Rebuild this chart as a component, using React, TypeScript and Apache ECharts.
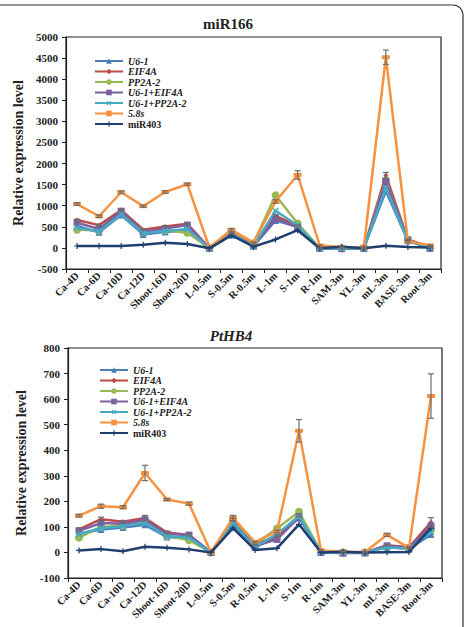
import React, { useEffect, useRef } from "react";
import * as echarts from "echarts";

const categories = ["Ca-4D", "Ca-6D", "Ca-10D", "Ca-12D", "Shoot-16D", "Shoot-20D", "L-0.5m", "S-0.5m", "R-0.5m", "L-1m", "S-1m", "R-1m", "SAM-3m", "YL-3m", "mL-3m", "BASE-3m", "Root-3m"];
const seriesNames = ["U6-1", "EIF4A", "PP2A-2", "U6-1+EIF4A", "U6-1+PP2A-2", "5.8s", "miR403"];

// miR166
const topU61 = [520, 370, 780, 320, 380, 420, -10, 300, 40, 650, 500, -10, -15, -10, 1350, 170, -10];
const topEIF4A = [660, 540, 900, 430, 510, 570, -5, 360, 80, 760, 520, -5, -10, -5, 1720, 200, 20];
const topPP2A2 = [430, 420, 840, 380, 420, 360, -5, 340, 110, 1250, 580, -5, -10, -5, 1600, 180, 10];
const topU61EIF4A = [600, 450, 870, 380, 460, 540, -10, 330, 60, 700, 490, -10, -20, -10, 1580, 190, -10];
const topU61PP2A2 = [480, 390, 800, 350, 400, 450, -10, 310, 50, 880, 530, -10, -15, -10, 1420, 175, 0];
const top58s = [1040, 750, 1320, 990, 1325, 1510, 10, 430, 130, 1100, 1730, 60, 20, 10, 4520, 160, 60];
const topMiR403 = [45, 45, 45, 75, 120, 95, -10, 300, 30, 200, 420, -10, 30, -10, 50, 20, 10];
const topErr58s = [30, 30, 30, 25, 30, 25, 0, 30, 10, 40, 100, 5, 5, 5, 170, 20, 5];
const topErrEIF4A = [20, 20, 25, 15, 20, 20, 0, 15, 5, 30, 30, 2, 2, 2, 70, 10, 5];

// PtHB4
const botU61 = [72, 90, 98, 108, 60, 55, 0, 108, 20, 62, 135, 0, -2, 0, 20, 14, 70];
const botEIF4A = [90, 130, 120, 135, 78, 68, 0, 128, 30, 65, 145, 0, 0, 0, 28, 20, 118];
const botPP2A2 = [58, 100, 105, 122, 65, 48, 0, 122, 33, 94, 159, 2, 0, 0, 22, 14, 88];
const botU61EIF4A = [85, 115, 112, 128, 72, 68, 0, 118, 25, 51, 138, 0, -2, -2, 26, 18, 103];
const botU61PP2A2 = [72, 95, 103, 115, 63, 58, 0, 115, 22, 72, 142, 0, 0, 0, 20, 14, 80];
const bot58s = [144, 181, 177, 311, 207, 191, 0, 135, 40, 82, 476, 8, 3, 2, 69, 18, 612];
const botMiR403 = [8, 13, 5, 22, 18, 12, 0, 95, 10, 16, 110, 0, 3, 0, 1, 2, 95];
const botErr58s = [5, 8, 6, 30, 4, 6, 0, 10, 3, 5, 44, 1, 1, 1, 6, 3, 87];
const botErrEIF4A = [5, 8, 5, 10, 4, 4, 0, 6, 2, 3, 6, 0, 0, 0, 2, 2, 18];

const topTicks = { min: -500, max: 5000, interval: 500 };
const botTicks = { min: -100, max: 800, interval: 100 };

const FONT = "'Liberation Serif', 'Times New Roman', serif";
const colors = ["#4A7EBB", "#BE4B48", "#98B954", "#7D60A0", "#46AAC5", "#F69240", "#1F3F6E"];
const plusPath = "path://M4,0H6V4H10V6H6V10H4V6H0V4H4Z";
const symbols: any[] = [
  { symbol: "triangle", symbolSize: 7 },
  { symbol: "diamond", symbolSize: 5 },
  { symbol: "circle", symbolSize: 8 },
  { symbol: "rect", symbolSize: 7 },
  { symbol: plusPath, symbolSize: 8, symbolRotate: 45 },
  { symbol: "rect", symbolSize: [8, 4] },
  { symbol: plusPath, symbolSize: 6 },
];

export default function App() {
  const ref = useRef<HTMLDivElement>(null);
  useEffect(() => {
    if (!ref.current) return;
    const chart = echarts.init(ref.current, null, { renderer: "svg" });
    const topData = [topU61, topEIF4A, topPP2A2, topU61EIF4A, topU61PP2A2, top58s, topMiR403];
    const botData = [botU61, botEIF4A, botPP2A2, botU61EIF4A, botU61PP2A2, bot58s, botMiR403];

    const lineSeries = (data: number[][], idx: number) =>
      data.map((d, i) => ({
        type: "line",
        name: seriesNames[i],
        xAxisIndex: idx,
        yAxisIndex: idx,
        data: d,
        color: colors[i],
        lineStyle: { width: 2.5, color: colors[i] },
        itemStyle: { color: colors[i] },
        ...symbols[i],
        showSymbol: true,
        z: 2 + i,
      }));

    const errSeries = (vals: number[], errs: number[], idx: number, name: string) => ({
      type: "custom",
      name,
      xAxisIndex: idx,
      yAxisIndex: idx,
      z: 20,
      encode: { x: 0, y: 1 },
      data: vals.map((v, i) => [i, v, errs[i]]),
      renderItem: (params: any, api: any) => {
        const x = api.value(0);
        const v = api.value(1);
        const e = api.value(2);
        if (!e) return null;
        const hi = api.coord([x, v + e]);
        const lo = api.coord([x, v - e]);
        const w = 3;
        const st = { stroke: "#6d6d6d", lineWidth: 1.2 };
        return {
          type: "group",
          children: [
            { type: "line", shape: { x1: hi[0], y1: hi[1], x2: lo[0], y2: lo[1] }, style: st },
            { type: "line", shape: { x1: hi[0] - w, y1: hi[1], x2: hi[0] + w, y2: hi[1] }, style: st },
            { type: "line", shape: { x1: lo[0] - w, y1: lo[1], x2: lo[0] + w, y2: lo[1] }, style: st },
          ],
        };
      },
    });

    const xAxisBase = (gridIndex: number) => ({
      type: "category",
      gridIndex,
      data: categories,
      boundaryGap: true,
      axisLine: { onZero: false, lineStyle: { color: "#222", width: 1.2 } },
      axisTick: { show: true, length: 4, lineStyle: { color: "#222" } },
      axisLabel: {
        interval: 0,
        rotate: 45,
        margin: 5,
        fontFamily: FONT,
        fontWeight: "bold",
        fontSize: 10.5,
        color: "#222",
      },
    });
    const yAxisBase = (gridIndex: number, t: any, nameGap: number) => ({
      type: "value",
      gridIndex,
      min: t.min,
      max: t.max,
      interval: t.interval,
      name: "Relative expression level",
      nameLocation: "middle",
      nameRotate: 90,
      nameGap,
      nameTextStyle: { fontFamily: FONT, fontWeight: "bold", fontSize: 14, color: "#222" },
      splitLine: { show: false },
      axisLine: { show: true, lineStyle: { color: "#222", width: 1.2 } },
      axisTick: { show: true, length: 4, lineStyle: { color: "#222" } },
      axisLabel: {
        margin: 8,
        fontFamily: FONT,
        fontWeight: "bold",
        fontSize: 11,
        color: "#222",
        formatter: (v: number) => String(v),
      },
    });

    const legendBase = (left: number, top: number) => ({
      orient: "vertical",
      left,
      top,
      itemWidth: 28,
      itemHeight: 7,
      itemGap: 0.5,
      data: seriesNames,
      formatter: (n: string) => (n === "miR403" ? `{n|${n}}` : `{i|${n}}`),
      textStyle: {
        fontFamily: FONT,
        fontSize: 10,
        color: "#222",
        rich: {
          i: { fontFamily: FONT, fontSize: 10, fontWeight: "bold", fontStyle: "italic", lineHeight: 11, color: "#222" },
          n: { fontFamily: FONT, fontSize: 10, fontWeight: "bold", lineHeight: 11, color: "#222" },
        },
      },
    });

    chart.setOption({
      animation: false,
      grid: [
        { left: 66, top: 37, width: 375, height: 232, show: true, borderColor: "#222", borderWidth: 1.2, backgroundColor: "transparent" },
        { left: 68, top: 348, width: 374, height: 230, show: true, borderColor: "#222", borderWidth: 1.2, backgroundColor: "transparent" },
      ],
      xAxis: [xAxisBase(0), xAxisBase(1)],
      yAxis: [yAxisBase(0, topTicks, 39), yAxisBase(1, botTicks, 34)],
      legend: [legendBase(89, 51), legendBase(94, 360)],
      graphic: [
        {
          type: "rect",
          shape: { x: -10, y: 5, width: 473, height: 700, r: 10 },
          style: { fill: "none", stroke: "#333", lineWidth: 1.2 },
          silent: true,
        },
        {
          type: "text",
          x: 228,
          y: 24,
          style: { text: "miR166", align: "center", verticalAlign: "middle", fontFamily: FONT, fontWeight: "bold", fontSize: 15, fill: "#222" },
        },
        {
          type: "text",
          x: 231,
          y: 336,
          style: { text: "PtHB4", align: "center", verticalAlign: "middle", fontFamily: FONT, fontWeight: "bold", fontStyle: "italic", fontSize: 15, fill: "#222" },
        },
      ],
      series: [
        ...lineSeries(topData, 0),
        ...lineSeries(botData, 1),
        errSeries(top58s, topErr58s, 0, "err-top-58s"),
        errSeries(topEIF4A, topErrEIF4A, 0, "err-top-eif"),
        errSeries(bot58s, botErr58s, 1, "err-bot-58s"),
        errSeries(botEIF4A, botErrEIF4A, 1, "err-bot-eif"),
      ],
    });
    return () => chart.dispose();
  }, []);
  return <div ref={ref} style={{ position: "absolute", left: 0, top: 0, width: 471, height: 627 }} />;
}
